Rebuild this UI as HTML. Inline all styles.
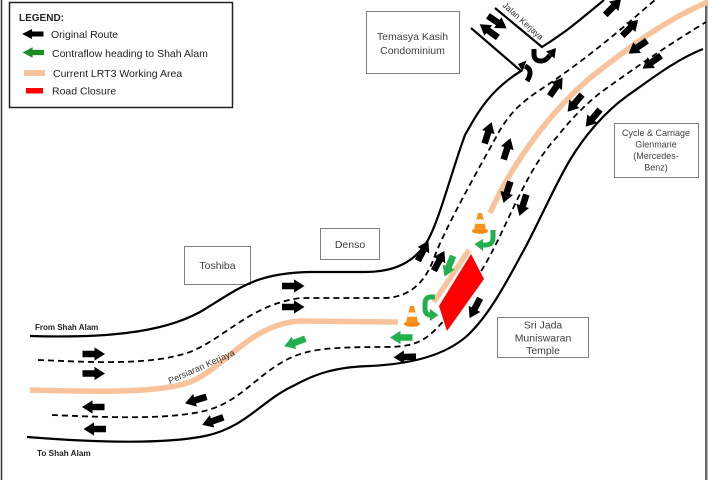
<!DOCTYPE html>
<html><head><meta charset="utf-8"><style>
html,body{margin:0;padding:0;background:#fff;}
svg{display:block;}
text{font-family:"Liberation Sans",sans-serif;}
</style></head><body>
<svg width="708" height="480" viewBox="0 0 708 480" xmlns="http://www.w3.org/2000/svg">
<defs>
<path id="ar" d="M-11,-3.3 L1,-3.3 L1,-6.6 L11.5,0 L1,6.6 L1,3.3 L-11,3.3 Z"/>
<g id="cone">
 <ellipse cx="0" cy="8" rx="8" ry="2.8" fill="#ee8a10"/>
 <polygon points="-2,-10 2,-10 6.2,7 -6.2,7" fill="#f7941d"/>
 <polygon points="-3.4,-3.5 3.4,-3.5 4.4,0.8 -4.4,0.8" fill="#fff"/>
</g>
</defs>
<rect width="708" height="480" fill="#fff"/>
<line x1="1.5" y1="0" x2="1.5" y2="480" stroke="#333" stroke-width="1.5"/>
<line x1="706" y1="0" x2="706" y2="480" stroke="#333" stroke-width="1.5"/>
<rect x="707" y="0" width="1" height="480" fill="#bbb"/>

<!-- Legend -->
<rect x="9.5" y="2.5" width="223" height="105" fill="#fff" stroke="#222" stroke-width="1.5"/>
<text x="19" y="21" font-size="10" font-weight="bold" fill="#222">LEGEND:</text>
<use href="#ar" transform="translate(33,34) rotate(180) scale(0.95,0.75)" fill="#000"/>
<text x="51" y="38" font-size="10.5" fill="#222">Original Route</text>
<use href="#ar" transform="translate(33.5,52.5) rotate(180) scale(0.95,0.8)" fill="#1e8a26"/>
<text x="52" y="57" font-size="10.5" fill="#222">Contraflow heading to Shah Alam</text>
<rect x="24" y="70" width="21" height="6" fill="#f8c39b"/>
<text x="53" y="77" font-size="10.5" fill="#222">Current LRT3 Working Area</text>
<rect x="26" y="88" width="17" height="5.5" fill="#ff0000"/>
<text x="52" y="94.5" font-size="10.5" fill="#222">Road Closure</text>

<!-- Boxes -->
<rect x="366.5" y="11.5" width="93" height="62" fill="#fff" stroke="#7f7f7f" stroke-width="1"/>
<text x="412.5" y="40" font-size="10.5" fill="#404040" text-anchor="middle">Temasya Kasih</text>
<text x="412.5" y="54" font-size="10.5" fill="#404040" text-anchor="middle">Condominium</text>

<rect x="614.5" y="123.5" width="84" height="54" fill="#fff" stroke="#7f7f7f" stroke-width="1"/>
<text x="656" y="136" font-size="9" fill="#404040" text-anchor="middle">Cycle &amp; Carriage</text>
<text x="656" y="147.5" font-size="9" fill="#404040" text-anchor="middle">Glenmarie</text>
<text x="656" y="159" font-size="9" fill="#404040" text-anchor="middle">(Mercedes-</text>
<text x="656" y="170.5" font-size="9" fill="#404040" text-anchor="middle">Benz)</text>

<rect x="320.5" y="228.5" width="59" height="31" fill="#fff" stroke="#7f7f7f" stroke-width="1"/>
<text x="350" y="248" font-size="10.5" fill="#404040" text-anchor="middle">Denso</text>

<rect x="184.5" y="246.5" width="66" height="38" fill="#fff" stroke="#7f7f7f" stroke-width="1"/>
<text x="217.5" y="269" font-size="10.5" fill="#404040" text-anchor="middle">Toshiba</text>

<rect x="497.5" y="317.5" width="91" height="40" fill="#fff" stroke="#7f7f7f" stroke-width="1"/>
<text x="543" y="328.5" font-size="10.5" fill="#404040" text-anchor="middle">Sri Jada</text>
<text x="543" y="341.5" font-size="10.5" fill="#404040" text-anchor="middle">Muniswaran</text>
<text x="543" y="354" font-size="10.5" fill="#404040" text-anchor="middle">Temple</text>

<!-- Road edges -->
<g fill="none" stroke="#000" stroke-width="2.2" stroke-linejoin="miter">
<path d="M30,336 C100,338 160,334 200,312 C240,288 255,273 310,272 L365,272 C395,272 415,262 428,240 C440,218 452,170 465,135 C478,112 490,90 521,71 L471,28"/>
<path d="M495,8 L542,47 C555,39 560,35 567,30 C580,20 592,10 604,0"/>
<path d="M27,437 C90,442 160,445 205,436 C245,428 262,400 295,385 C315,374 335,367 370,366 C410,364 445,356 468,335 C492,312 510,275 525,248 C540,220 555,185 570,160 C585,135 605,112 627,96 C650,80 675,60 703,49"/>
</g>

<!-- Dashed lanes -->
<g fill="none" stroke="#000" stroke-width="1.8" stroke-dasharray="6 4">
<path d="M38,360 C90,362 150,366 190,352 C225,338 250,305 300,298 L385,298 C412,297 426,280 434,258 C445,228 478,170 500,130 C512,110 525,100 540,90 C560,77 590,55 620,30 C632,20 643,10 655,0"/>
<path d="M52,415 C100,417 160,420 200,412 C240,404 255,375 290,358 C310,349 330,347 385,347 C410,347 422,343 435,330 C455,310 470,290 483,268 C495,248 505,225 517,200 C528,178 540,155 557,137 C570,120 585,105 600,93 C625,75 660,50 706,22"/>
</g>

<!-- Peach working area -->
<g fill="none" stroke="#f8c39b" stroke-width="5.5" stroke-linecap="butt">
<path d="M30,390 C100,392 160,393 190,382 C225,368 250,324 300,321 L398,322"/>
<path d="M434,302 L469,250"/>
<path d="M490,213 C505,180 520,158 533,140 C555,110 580,85 600,70 C630,47 665,20 708,2"/>
</g>

<!-- Road closure -->
<polygon points="439,306 471,254 484,279 447,331" fill="#ff0000"/>

<!-- Cones -->
<use href="#cone" transform="translate(480,223)"/>
<use href="#cone" transform="translate(412,316)"/>

<!-- Road labels -->
<text x="35" y="330" font-size="8" font-weight="bold" fill="#222">From Shah Alam</text>
<text x="37" y="456" font-size="8.2" font-weight="bold" fill="#222">To Shah Alam</text>
<text transform="translate(170,384) rotate(-24)" font-size="9" fill="#333">Persiaran Kerjaya</text>
<text transform="translate(502,6) rotate(42)" font-size="8.5" fill="#333">Jalan Kerjaya</text>

<!-- Black arrows -->
<g fill="#000">
<use href="#ar" transform="translate(93.5,354)"/>
<use href="#ar" transform="translate(93.5,373.5)"/>
<use href="#ar" transform="translate(93.5,407) rotate(180)"/>
<use href="#ar" transform="translate(95,429) rotate(180)"/>
<use href="#ar" transform="translate(293,286)"/>
<use href="#ar" transform="translate(293,307)"/>
<use href="#ar" transform="translate(196,400) rotate(163)"/>
<use href="#ar" transform="translate(213,421) rotate(160)"/>
<use href="#ar" transform="translate(405,357) rotate(178)"/>
<use href="#ar" transform="translate(423,251) rotate(-62)"/>
<use href="#ar" transform="translate(439,261) rotate(-62)"/>
<use href="#ar" transform="translate(475,308) rotate(118)"/>
<use href="#ar" transform="translate(488,133) rotate(-72)"/>
<use href="#ar" transform="translate(507,149) rotate(-72)"/>
<use href="#ar" transform="translate(507,192) rotate(108)"/>
<use href="#ar" transform="translate(523,205) rotate(108)"/>
<use href="#ar" transform="translate(556,87) rotate(-55)"/>
<use href="#ar" transform="translate(613,7) rotate(-45)"/>
<use href="#ar" transform="translate(630,28) rotate(-45)"/>
<use href="#ar" transform="translate(575,103) rotate(130)"/>
<use href="#ar" transform="translate(593,118) rotate(130)"/>
<use href="#ar" transform="translate(638,47) rotate(145)"/>
<use href="#ar" transform="translate(652,62) rotate(145)"/>
<use href="#ar" transform="translate(489,31) rotate(216)"/>
<use href="#ar" transform="translate(497,22) rotate(34)"/>
</g>
<!-- Black hook arrows at junction -->
<g fill="none" stroke="#000" stroke-width="5">
<path d="M534,49 L534,54 Q534,61 541,61 Q546,61 550,55"/>
<path d="M527,81 Q534,70 525,66"/>
</g>
<polygon points="556,48 554.5,58.5 546,51.5" fill="#000"/>
<polygon points="518,64 526.5,60.5 522.5,71.5" fill="#000"/>

<!-- Green contraflow -->
<g fill="#21b04b">
<use href="#ar" transform="translate(295,342.5) rotate(160)"/>
<use href="#ar" transform="translate(401.5,337.5) rotate(180)"/>
<use href="#ar" transform="translate(449,266) rotate(112)"/>
</g>
<g fill="none" stroke="#21b04b" stroke-width="5">
<path d="M493,230 L493,238 Q493,245 485,245 L482,245"/>
<path d="M435,297 L431,297 Q425,297 425,304 L425,309 Q425,315 431,315"/>
</g>
<polygon points="483,239 474.5,244 483,251" fill="#21b04b"/>
<polygon points="430,309 438.5,315 430,321" fill="#21b04b"/>
</svg>
</body></html>
